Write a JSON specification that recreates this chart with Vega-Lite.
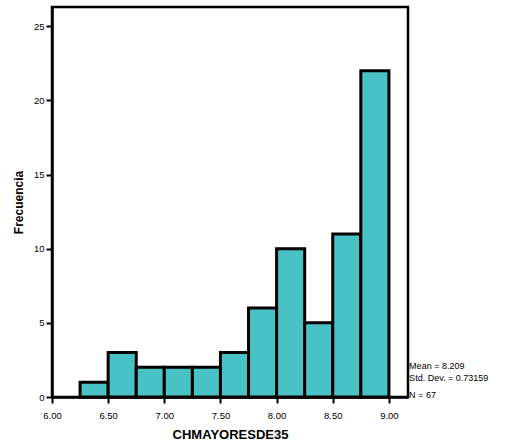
{
  "$schema": "https://vega.github.io/schema/vega-lite/v6.json",
  "width": 356,
  "height": 390,
  "autosize": "none",
  "padding": {"left": 52, "top": 7, "right": 108, "bottom": 50},
  "background": "white",
  "config": {
    "view": {"stroke": "black", "strokeWidth": 2.5},
    "font": "Liberation Sans"
  },
  "datasets": {
    "bins": [
      {"start": 6.25, "end": 6.5, "count": 1},
      {"start": 6.5, "end": 6.75, "count": 3},
      {"start": 6.75, "end": 7.0, "count": 2},
      {"start": 7.0, "end": 7.25, "count": 2},
      {"start": 7.25, "end": 7.5, "count": 2},
      {"start": 7.5, "end": 7.75, "count": 3},
      {"start": 7.75, "end": 8.0, "count": 6},
      {"start": 8.0, "end": 8.25, "count": 10},
      {"start": 8.25, "end": 8.5, "count": 5},
      {"start": 8.5, "end": 8.75, "count": 11},
      {"start": 8.75, "end": 9.0, "count": 22}
    ],
    "stats": [
      {"x": 9.18, "y": 2.1, "label": "Mean = 8.209"},
      {"x": 9.18, "y": 1.3, "label": "Std. Dev. = 0.73159"},
      {"x": 9.18, "y": 0.15, "label": "N = 67"}
    ]
  },
  "layer": [
    {
      "data": {"name": "bins"},
      "mark": {"type": "bar", "fill": "#48C2C4", "stroke": "black", "strokeWidth": 3, "strokeJoin": "miter"},
      "encoding": {
        "x": {
          "field": "start", "type": "quantitative",
          "scale": {"domain": [6, 9.17], "nice": false, "zero": false},
          "axis": {
            "values": [6, 6.5, 7, 7.5, 8, 8.5, 9],
            "format": ".2f",
            "labelFlush": false,
            "title": "CHMAYORESDE35",
            "titleFont": "Liberation Sans", "titleFontWeight": "bold", "titleFontSize": 13, "titleColor": "black",
            "titlePadding": 9,
            "labelFontSize": 9.5, "labelColor": "black", "labelPadding": 7,
            "domainColor": "black", "domainWidth": 2.5,
            "tickColor": "black", "tickWidth": 2, "tickSize": 6,
            "grid": false
          }
        },
        "x2": {"field": "end"},
        "y": {
          "field": "count", "type": "quantitative",
          "scale": {"domain": [0, 26.3], "nice": false},
          "axis": {
            "values": [0, 5, 10, 15, 20, 25],
            "labelFlush": false,
            "title": "Frecuencia",
            "titleFont": "Liberation Sans", "titleFontWeight": "bold", "titleFontSize": 12, "titleColor": "black",
            "titlePadding": 8,
            "labelFontSize": 9.5, "labelColor": "black", "labelPadding": 2,
            "domainColor": "black", "domainWidth": 2.5,
            "tickColor": "black", "tickWidth": 2, "tickSize": 6,
            "grid": false
          }
        },
        "y2": {"datum": 0}
      }
    },
    {
      "data": {"name": "stats"},
      "mark": {"type": "text", "align": "left", "baseline": "middle", "fontSize": 9, "color": "black", "clip": false},
      "encoding": {
        "x": {"field": "x", "type": "quantitative"},
        "y": {"field": "y", "type": "quantitative"},
        "text": {"field": "label"}
      }
    }
  ]
}
